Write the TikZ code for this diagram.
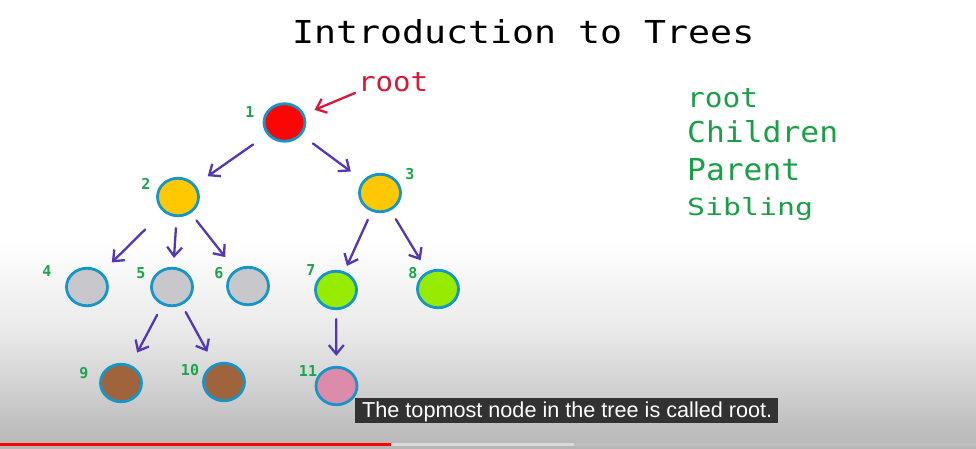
\documentclass[tikz,border=0pt]{standalone}
\usepackage{fontspec}
\usepackage{graphicx}
\usetikzlibrary{shapes.geometric,arrows.meta}
\newfontfamily\handfont{DejaVu Sans Mono}
\newfontfamily\capfont{Liberation Sans}
\definecolor{ring}{RGB}{20,150,200}
\definecolor{arrowc}{RGB}{85,55,180}
\definecolor{numgreen}{RGB}{25,165,75}
\definecolor{wordgreen}{RGB}{25,160,70}
\definecolor{rootred}{RGB}{215,25,55}
\definecolor{cred}{RGB}{252,5,5}
\definecolor{cgold}{RGB}{255,200,0}
\definecolor{cgray}{RGB}{200,200,204}
\definecolor{cgreen}{RGB}{150,235,0}
\definecolor{cbrown}{RGB}{160,100,60}
\definecolor{cpink}{RGB}{220,140,170}
\definecolor{bgmid}{RGB}{234,234,234}
\definecolor{bgbot}{RGB}{182,182,182}
\definecolor{capbg}{RGB}{50,50,50}
\definecolor{barlight}{RGB}{218,218,218}
\definecolor{barrest}{RGB}{192,192,192}
\definecolor{ytred}{RGB}{255,0,0}
\begin{document}
\begin{tikzpicture}[x=1pt,y=-1pt,
  tnode/.style={ellipse,draw=ring,line width=2.8pt,minimum width=41pt,minimum height=37.5pt,inner sep=0pt},
  arr/.style={draw=arrowc,line width=2.3pt,line cap=round,-{Straight Barb[length=9pt,width=15pt]}},
  rootarr/.style={draw=rootred,line width=2.3pt,line cap=round,-{Straight Barb[length=9pt,width=15pt]}},
  num/.style={text=numgreen,font=\handfont\bfseries\fontsize{15}{15}\selectfont,inner sep=0pt},
  word/.style={anchor=base west,inner sep=0pt,text=wordgreen}
]
\useasboundingbox (0,0) rectangle (976,448);
\fill[white] (0,0) rectangle (976,448);
\shade[top color=white,bottom color=bgmid] (0,240) rectangle (976,330);
\shade[top color=bgmid,bottom color=bgbot] (0,330) rectangle (976,448);

% title
\node[anchor=base west,inner sep=0pt] (title) at (292,43) {\resizebox{462pt}{24pt}{\handfont Introduction to Trees}};

% tree nodes
\node[tnode,fill=cred]   (n1)  at (284.5,122.5) {};
\node[tnode,fill=cgold]  (n2)  at (178,197) {};
\node[tnode,fill=cgold]  (n3)  at (380,193) {};
\node[tnode,fill=cgray]  (n4)  at (87,287) {};
\node[tnode,fill=cgray]  (n5)  at (172,287) {};
\node[tnode,fill=cgray]  (n6)  at (248,286) {};
\node[tnode,fill=cgreen] (n7)  at (336,290) {};
\node[tnode,fill=cgreen] (n8)  at (438,289) {};
\node[tnode,fill=cbrown] (n9)  at (121,383) {};
\node[tnode,fill=cbrown] (n10) at (224,382) {};
\node[tnode,fill=cpink]  (n11) at (336.5,386) {};

% number labels
\node[num] (l1)  at (250,112) {1};
\node[num] (l2)  at (146,184) {2};
\node[num] (l3)  at (410,174) {3};
\node[num] (l4)  at (47,271) {4};
\node[num] (l5)  at (141,273) {5};
\node[num] (l6)  at (219,273) {6};
\node[num] (l7)  at (311,270) {7};
\node[num] (l8)  at (413,273) {8};
\node[num] (l9)  at (84,373) {9};
\node[num] (l10) at (190,370) {10};
\node[num] (l11) at (308,371) {11};

% arrows
\draw[arr,shorten <=17pt,shorten >=15pt] (n1) -- (n2);
\draw[arr,shorten <=14pt,shorten >=15pt] (n1) -- (n3);
\draw[arr,shorten <=25pt,shorten >=14pt] (n2) -- (n4);
\draw[arr,shorten <=11pt,shorten >=9pt] (n2) -- (n5);
\draw[arr,shorten <=9pt,shorten >=16pt] (n2) -- (n6);
\draw[arr,shorten <=9pt,shorten >=6pt] (n3) -- (n7);
\draw[arr,shorten <=10pt,shorten >=13pt] (n3) -- (n8);
\draw[arr,shorten <=11pt,shorten >=14pt] (n5) -- (n9);
\draw[arr,shorten <=8pt,shorten >=14pt] (n5) -- (n10);
\draw[arr,shorten <=9pt,shorten >=10pt] (n7) -- (n11);

% root pointer
\node[anchor=base west,inner sep=0pt,text=rootred] (rootlbl) at (358,91) {\resizebox{70pt}{19pt}{\handfont root}};
\coordinate (rs) at (355,93);
\draw[rootarr,shorten >=11pt] (rs) -- (n1);

% terms on the right
\node[word] (w1) at (687,107) {\resizebox{71pt}{19pt}{\handfont root}};
\node[word] (w2) at (687,142) {\resizebox{151pt}{22pt}{\handfont Children}};
\node[word] (w3) at (687,180) {\resizebox{113pt}{22pt}{\handfont Parent}};
\node[word] (w4) at (687,215) {\resizebox{126pt}{18pt}{\handfont Sibling}};

% caption
\node[fill=capbg,anchor=north west,minimum width=423pt,minimum height=25pt,inner sep=0pt] (capbox) at (355,398) {};
\node[anchor=base west,inner sep=0pt,text=white] (cap) at (362,417) {\resizebox{410pt}{!}{\capfont\fontsize{21}{21}\selectfont The topmost node in the tree is called root.}};

% progress bar
\fill[barrest] (0,442.7) rectangle (976,446);
\fill[barlight] (391,442.7) rectangle (574,446);
\fill[ytred] (0,442.7) rectangle (391,446);
\end{tikzpicture}
\end{document}
